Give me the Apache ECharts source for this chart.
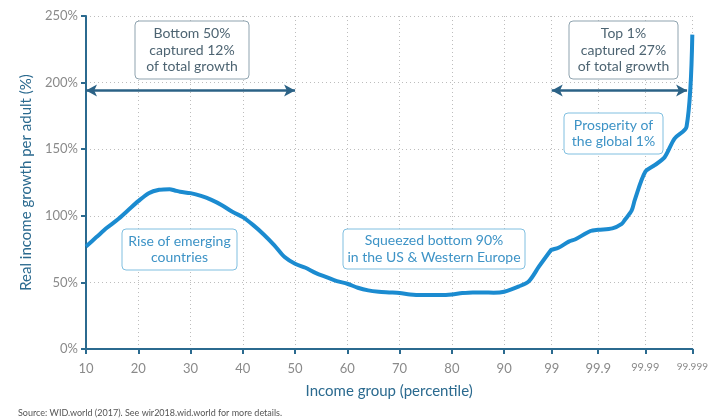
<!DOCTYPE html>
<html>
<head>
<meta charset="utf-8">
<script src="https://cdn.jsdelivr.net/npm/echarts@6/dist/echarts.min.js"></script>
<style>
html,body{margin:0;padding:0;background:#fff;}
#chart{width:711px;height:420px;}
</style>
</head>
<body>
<div id="chart"></div>
<script>
// ---- data ----
const percentiles = [10,12,14,16,18,20,22,24,26,27,28,30,32,34,36,38,40,42,44,46,48,50,52,54,56,58,60,62,64,66,68,70,72,74,76,78,80,82,84,86,88,90,92.8,94.7,96.6,98.8,99,99.13,99.33,99.46,99.75,99.9,99.927,99.945,99.951,99.964,99.97,99.99,99.9918,99.9937,99.9956,99.9979,99.999];
const growth = [77,84,91,97,104,111,117,119.5,120,119,118,117,115,112,108,103,99,93,86,78,69,64,61,57,54,51,49,46,44,43,42.5,42,41,40.5,40.5,40.5,41,42,42.5,42.5,42.3,43,47,51,62,74,74.5,76,80.6,82.4,88.6,89.5,90.6,94,97,104,112,133,138,144,158,167,236];
const tickPercentiles = [10,20,30,40,50,60,70,80,90,99,99.9,99.99,99.999];
const tickLabels = ['10','20','30','40','50','60','70','80','90','99','99.9','99.99','99.999'];
const yTicks = [0,50,100,150,200,250];

// ---- scale: percentile -> axis position (piecewise, as in the original axis) ----
const segs = [[10,90,0,8],[90,99,8,8.91],[99,99.9,8.91,9.80],[99.9,99.99,9.80,10.70],[99.99,99.999,10.70,11.60]];
function pos(p){
  for (const s of segs){ if (p<=s[1]+1e-9) return s[2]+(p-s[0])/(s[1]-s[0])*(s[3]-s[2]); }
  return 11.6;
}
const tickPos = tickPercentiles.map(pos);
const lineData = percentiles.map((p,i)=>[pos(p), growth[i]]);

const darkBlue = '#2b6a8f';
const arrowColor = '#2b6286';
const chart = echarts.init(document.getElementById('chart'));

function box(x,y,w,h,lines,color,border){
  return [
    {type:'rect', shape:{x:x,y:y,width:w,height:h,r:4}, style:{fill:'#fff',stroke:border,lineWidth:1}, z:10},
    {type:'text', x:x+w/2, y:y+h/2, style:{text:lines.join('\n'), fill:color, font:'14px Lato', align:'center', verticalAlign:'middle', lineHeight:16.5}, z:11}
  ];
}

chart.setOption({
  animation:false,
  grid:{left:86,right:13,top:16,bottom:71},
  xAxis:{
    type:'value', min:0, max:11.6,
    name:'Income group (percentile)', nameLocation:'middle', nameGap:35,
    nameTextStyle:{color:darkBlue, fontSize:15, fontFamily:'Lato'},
    axisLine:{show:true, lineStyle:{color:darkBlue, width:2}},
    axisTick:{show:true, customValues:tickPos, length:5, lineStyle:{color:darkBlue,width:2}},
    axisLabel:{customValues:tickPos, margin:13, color:'#8a8a8a', fontFamily:'Lato', fontSize:13,
      formatter:function(v){
        let bi=0,bd=1e9; tickPos.forEach((t,i)=>{const d=Math.abs(t-v); if(d<bd){bd=d;bi=i;}});
        const l = tickLabels[bi];
        if (l.length>=6) return '{s2|'+l+'}';
        if (l.length===5) return '{s1|'+l+'}';
        return l;
      },
      rich:{s1:{fontSize:11,color:'#8a8a8a',fontFamily:'Lato'}, s2:{fontSize:10,color:'#8a8a8a',fontFamily:'Lato'}}
    },
    splitLine:{show:true, lineStyle:{color:'#bdbdbd', type:[1,3], width:1}}
  },
  yAxis:{
    type:'value', min:yTicks[0], max:yTicks[yTicks.length-1], interval:50,
    name:'Real income growth per adult (%)', nameLocation:'middle', nameGap:52,
    nameTextStyle:{color:darkBlue, fontSize:15, fontFamily:'Lato'},
    axisLine:{show:true, lineStyle:{color:darkBlue, width:2}},
    axisTick:{show:true, length:5, lineStyle:{color:darkBlue,width:2}},
    axisLabel:{formatter:'{value}%', color:'#8a8a8a', fontFamily:'Lato', fontSize:13, margin:8},
    splitLine:{show:true, lineStyle:{color:'#bdbdbd', type:[1,3], width:1}}
  },
  series:[{
    type:'line', data:lineData, smooth:0.3, showSymbol:false,
    lineStyle:{color:'#1b8bd0', width:4}, z:5,
    markLine:{
      silent:true, symbol:['arrow','arrow'], symbolSize:[9,11],
      label:{show:false},
      lineStyle:{color:arrowColor, width:2.5, type:'solid'},
      data:[
        [{coord:[pos(10),194]},{coord:[pos(50),194]}],
        [{coord:[pos(99),194]},{coord:[pos(99.998),194]}]
      ]
    }
  }],
  graphic:[].concat(
    box(135,21,114,58,['Bottom 50%','captured 12%','of total growth'],'#4d6472','#8fa3af'),
    box(569,21,109,58,['Top 1%','captured 27%','of total growth'],'#4d6472','#8fa3af'),
    box(564,113,99,41,['Prosperity of','the global 1%'],'#3d93c6','#80bfe0'),
    box(122,229,115,41,['Rise of emerging','countries'],'#3d93c6','#80bfe0'),
    box(343,229,182,40,['Squeezed bottom 90%','in the US & Western Europe'],'#3d93c6','#80bfe0'),
    [{type:'text', left:18, top:409, style:{text:'Source: WID.world (2017). See wir2018.wid.world for more details.', fill:'#555', font:'9px Lato'}}]
  )
});
</script>
</body>
</html>
